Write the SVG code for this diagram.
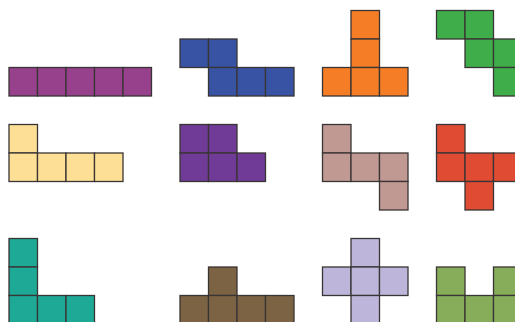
<svg xmlns="http://www.w3.org/2000/svg" width="515" height="322" viewBox="0 0 515 322">
<style>
rect{stroke:#3a3535;stroke-width:1.3;width:28.5px;height:28.5px}
.p1 rect{fill:#97418c}
.p2 rect{fill:#3953a4}
.p3 rect{fill:#f57d25}
.p4 rect{fill:#3fae4a}
.p5 rect{fill:#fddf96}
.p6 rect{fill:#6f3b96}
.p7 rect{fill:#c09993}
.p8 rect{fill:#e04b33}
.p9 rect{fill:#1ea896}
.p10 rect{fill:#7c6344}
.p11 rect{fill:#beb5da}
.p12 rect{fill:#87ad5b}
</style>
<rect x="0" y="0" width="515" height="322" style="fill:#fff;stroke:none;width:515px;height:322px"/>
<g id="pentomino-I" class="p1" transform="translate(9,67.5)">
<rect x="0" y="0" width="28.5" height="28.5"/><rect x="28.5" y="0" width="28.5" height="28.5"/><rect x="57" y="0" width="28.5" height="28.5"/><rect x="85.5" y="0" width="28.5" height="28.5"/><rect x="114" y="0" width="28.5" height="28.5"/>
</g>
<g id="pentomino-N" class="p2" transform="translate(180,39)">
<rect x="0" y="0" width="28.5" height="28.5"/><rect x="28.5" y="0" width="28.5" height="28.5"/><rect x="28.5" y="28.5" width="28.5" height="28.5"/><rect x="57" y="28.5" width="28.5" height="28.5"/><rect x="85.5" y="28.5" width="28.5" height="28.5"/>
</g>
<g id="pentomino-T" class="p3" transform="translate(322.5,10.5)">
<rect x="28.5" y="0" width="28.5" height="28.5"/><rect x="28.5" y="28.5" width="28.5" height="28.5"/><rect x="0" y="57" width="28.5" height="28.5"/><rect x="28.5" y="57" width="28.5" height="28.5"/><rect x="57" y="57" width="28.5" height="28.5"/>
</g>
<g id="pentomino-W" class="p4" transform="translate(436.5,10.5)">
<rect x="0" y="0" width="28.5" height="28.5"/><rect x="28.5" y="0" width="28.5" height="28.5"/><rect x="28.5" y="28.5" width="28.5" height="28.5"/><rect x="57" y="28.5" width="28.5" height="28.5"/><rect x="57" y="57" width="28.5" height="28.5"/>
</g>
<g id="pentomino-L" class="p5" transform="translate(9,124.5)">
<rect x="0" y="0" width="28.5" height="28.5"/><rect x="0" y="28.5" width="28.5" height="28.5"/><rect x="28.5" y="28.5" width="28.5" height="28.5"/><rect x="57" y="28.5" width="28.5" height="28.5"/><rect x="85.5" y="28.5" width="28.5" height="28.5"/>
</g>
<g id="pentomino-P" class="p6" transform="translate(180,124.5)">
<rect x="0" y="0" width="28.5" height="28.5"/><rect x="28.5" y="0" width="28.5" height="28.5"/><rect x="0" y="28.5" width="28.5" height="28.5"/><rect x="28.5" y="28.5" width="28.5" height="28.5"/><rect x="57" y="28.5" width="28.5" height="28.5"/>
</g>
<g id="pentomino-Z" class="p7" transform="translate(322.5,124.5)">
<rect x="0" y="0" width="28.5" height="28.5"/><rect x="0" y="28.5" width="28.5" height="28.5"/><rect x="28.5" y="28.5" width="28.5" height="28.5"/><rect x="57" y="28.5" width="28.5" height="28.5"/><rect x="57" y="57" width="28.5" height="28.5"/>
</g>
<g id="pentomino-F" class="p8" transform="translate(436.5,124.5)">
<rect x="0" y="0" width="28.5" height="28.5"/><rect x="0" y="28.5" width="28.5" height="28.5"/><rect x="28.5" y="28.5" width="28.5" height="28.5"/><rect x="57" y="28.5" width="28.5" height="28.5"/><rect x="28.5" y="57" width="28.5" height="28.5"/>
</g>
<g id="pentomino-V" class="p9" transform="translate(9,238.5)">
<rect x="0" y="0" width="28.5" height="28.5"/><rect x="0" y="28.5" width="28.5" height="28.5"/><rect x="0" y="57" width="28.5" height="28.5"/><rect x="28.5" y="57" width="28.5" height="28.5"/><rect x="57" y="57" width="28.5" height="28.5"/>
</g>
<g id="pentomino-Y" class="p10" transform="translate(180,267)">
<rect x="28.5" y="0" width="28.5" height="28.5"/><rect x="0" y="28.5" width="28.5" height="28.5"/><rect x="28.5" y="28.5" width="28.5" height="28.5"/><rect x="57" y="28.5" width="28.5" height="28.5"/><rect x="85.5" y="28.5" width="28.5" height="28.5"/>
</g>
<g id="pentomino-X" class="p11" transform="translate(322.5,238.5)">
<rect x="28.5" y="0" width="28.5" height="28.5"/><rect x="0" y="28.5" width="28.5" height="28.5"/><rect x="28.5" y="28.5" width="28.5" height="28.5"/><rect x="57" y="28.5" width="28.5" height="28.5"/><rect x="28.5" y="57" width="28.5" height="28.5"/>
</g>
<g id="pentomino-U" class="p12" transform="translate(436.5,267)">
<rect x="0" y="0" width="28.5" height="28.5"/><rect x="57" y="0" width="28.5" height="28.5"/><rect x="0" y="28.5" width="28.5" height="28.5"/><rect x="28.5" y="28.5" width="28.5" height="28.5"/><rect x="57" y="28.5" width="28.5" height="28.5"/>
</g>
<g id="connectors"/>
</svg>
